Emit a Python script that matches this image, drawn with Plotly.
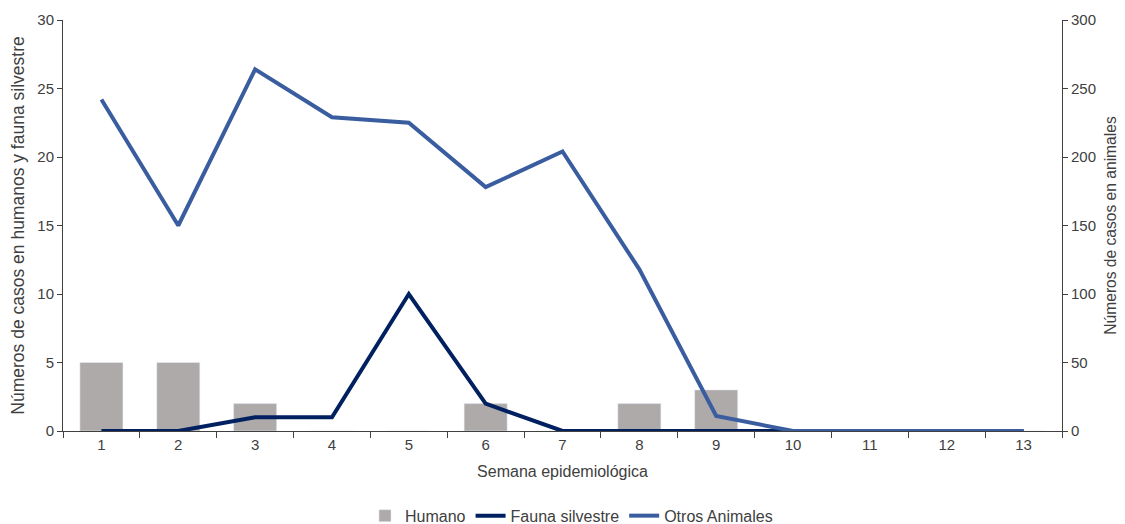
import plotly.graph_objects as go

semanas = [str(i) for i in range(1, 14)]
humano = [5, 5, 2, 0, 0, 2, 0, 2, 3, 0, 0, 0, 0]
fauna = [0, 0, 1, 1, 10, 2, 0, 0, 0, 0, 0, 0, 0]
otros = [242, 150, 264, 229, 225, 178, 204, 118, 11, 0, 0, 0, 0]

FONT = "Liberation Sans, Arial, sans-serif"
TXT = "#404040"

fig = go.Figure()
fig.add_trace(go.Bar(x=semanas, y=humano, name="Humano", marker_color="#AEAAAA",
                     width=0.56, yaxis="y"))
fig.add_trace(go.Scatter(x=semanas, y=fauna, name="Fauna silvestre", mode="lines",
                         line=dict(color="#002060", width=4), yaxis="y"))
fig.add_trace(go.Scatter(x=semanas, y=otros, name="Otros Animales", mode="lines",
                         line=dict(color="#3A5DA0", width=4), yaxis="y2"))

# page body has an 8px default margin, so the figure is 8px smaller and shifted
fig.update_layout(
    width=1117, height=516,
    margin=dict(l=55, r=63, t=12, b=93),
    plot_bgcolor="white", paper_bgcolor="white",
    font=dict(family=FONT, size=15, color=TXT),
    showlegend=True,
    legend=dict(orientation="h", x=0.509, xanchor="center", yref="container", y=0.016,
                yanchor="middle", font=dict(size=16, color=TXT), traceorder="normal",
                itemwidth=30),
    xaxis=dict(type="category", tickson="boundaries", ticks="outside", ticklen=6,
               tickcolor=TXT, showline=True, linecolor=TXT, linewidth=1, automargin=False,
               showgrid=False,
               title=dict(text="Semana epidemiológica", standoff=13, font=dict(size=16)),
               tickfont=dict(size=15)),
    yaxis=dict(range=[0, 30], dtick=5, showgrid=False, showline=True, linecolor=TXT,
               ticks="outside", ticklen=5, tickcolor=TXT, zeroline=False, automargin=False,
               title=dict(text="Números de casos en humanos y fauna silvestre", standoff=12,
                          font=dict(size=17.5)), tickfont=dict(size=15)),
    yaxis2=dict(range=[0, 300], dtick=50, overlaying="y", side="right", showgrid=False,
                showline=True, linecolor=TXT, ticks="outside", ticklen=5, automargin=False,
                tickcolor=TXT, zeroline=False,
                title=dict(text="Números de casos en animales", standoff=10,
                           font=dict(size=15.6)), tickfont=dict(size=15)),
)

fig.write_html("out.html")
